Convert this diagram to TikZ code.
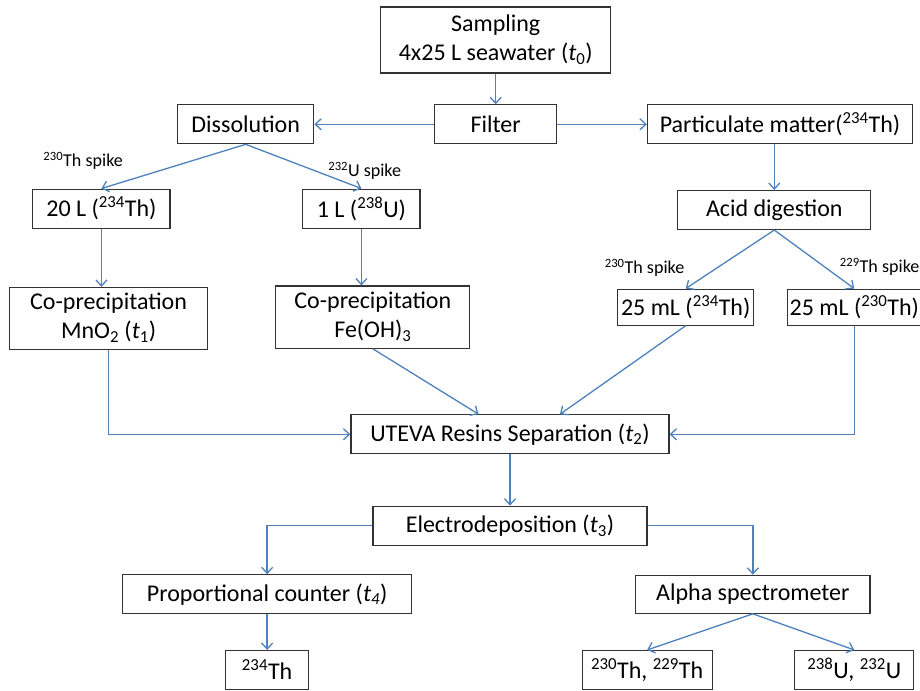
\documentclass[tikz,border=0pt]{standalone}
\usepackage{fontspec}
\setmainfont{Carlito}
\usetikzlibrary{arrows.meta, positioning}
\definecolor{lineblue}{RGB}{79,129,189}
\tikzstyle{box} = [rectangle, minimum height=1.365cm, text centered, draw=black!80, line width=1.1pt, inner sep=2pt, font=\fontsize{23.9}{29}\selectfont]
\tikzstyle{spikelabel} = [inner sep=1pt, font=\fontsize{18}{20}\selectfont]
\tikzstyle{line} = [draw=lineblue, line width=1.3pt, -{Straight Barb[length=6pt,width=11pt]}]

\begin{document}
\begin{tikzpicture}[node distance=3cm]
\useasboundingbox (0,0) rectangle (32.2,-24.185);

% Boxes
% Sampling and filtration
\node (sampling) [box, minimum width=8.05cm, minimum height=2.31cm] at (17.35,-1.4) {
    \begin{tabular}{c}
        Sampling \\
        4x25 L seawater (\textit{t}\textsubscript{0})
    \end{tabular}
};
\node (filter) [box, minimum width=4.27cm, below of=sampling, yshift=0.05cm] {Filter};
\node (dissolution) [box, minimum width=4.76cm, left of=filter, xshift=-5.75cm] {Dissolution};
\node (particulate) [box, minimum width=9.28cm, right of=filter, xshift=6.95cm] {Particulate matter(\textsuperscript{234}Th)};
%Dissolved fraction
\node (vingt) [box, minimum width=4.8cm, below of=dissolution, xshift=-5.05cm, yshift=0.05cm] {20 L (\textsuperscript{234}Th)};
\node (un) [box, minimum width=4.1cm, below of=dissolution, xshift=4.05cm, yshift=0.05cm] {1 L (\textsuperscript{238}U)};
\node (mno) [box, minimum width=6.93cm, minimum height=2.17cm, below of=vingt, xshift=0.25cm, yshift=-0.85cm] {
    \begin{tabular}{c}
        Co-precipitation \\
        MnO\textsubscript{2} (\textit{t}\textsubscript{1})
    \end{tabular}
};
\node (feoh) [box, minimum width=6.79cm, minimum height=2.17cm, below of=un, xshift=0.4cm, yshift=-0.8cm] {
    \begin{tabular}{c}
        Co-precipitation \\
        Fe(OH)\textsubscript{3}
    \end{tabular}
};
%Particulate fraction
\node (acid) [box, minimum width=6.76cm, below of=particulate, xshift=-0.2cm] {Acid digestion};
\node (thA) [box, minimum width=4.76cm, minimum height=1.26cm, below of=acid, xshift=-3.1cm, yshift=-0.4cm] {25 mL (\textsuperscript{234}Th)};
\node (thB) [box, minimum width=4.41cm, minimum height=1.26cm, right of=thA, xshift=2.9cm] {25 mL (\textsuperscript{230}Th)};
%Separation and counting
\node (uteva) [box, minimum width=11.13cm, below of=filter, xshift=0.5cm, yshift=-7.85cm] {UTEVA Resins Separation (\textit{t}\textsubscript{2})};
\node (electro) [box, minimum width=9.59cm, below of=uteva, yshift=-0.2cm] {Electrodeposition (\textit{t}\textsubscript{3})};
\node (propcount) [box, minimum width=10.1cm, below of=electro, xshift=-8.5cm, yshift=0.6cm] {Proportional counter (\textit{t\textsubscript{4}})};
\node (alpha) [box, minimum width=8.2cm, minimum height=1.33cm, below of=electro, xshift=8.5cm, yshift=0.6cm] {Alpha spectrometer};
\node (th234) [box, minimum width=2.9cm, below of=propcount, yshift=0.35cm] {\textsuperscript{234}Th};
\node (thth) [box, minimum width=4.55cm, below of=alpha, xshift=-3.7cm, yshift=0.35cm] {\textsuperscript{230}Th, \textsuperscript{229}Th};
\node (uu) [box, minimum width=4.17cm, below of=alpha, xshift=3.55cm, yshift=0.35cm] {\textsuperscript{238}U, \textsuperscript{232}U};

% Connections
\draw [line] (sampling) -- (filter);
\draw [line] (filter) -- (dissolution);
\draw [line] (filter) -- (particulate);
\draw [line] (dissolution.south) -- node[spikelabel, pos=0.8, above left, xshift=-0.2cm, yshift=0.3cm] {\textsuperscript{230}Th spike} (vingt.north);
\draw [line] (dissolution.south) -- node[spikelabel, pos=0.7, above right, yshift=-0.2cm] {\textsuperscript{232}U spike} (un.north);
\draw [line] (vingt.south) -- (vingt.south |- mno.north);
\draw [line] (un.south) -- (un.south |- feoh.north);
\draw [line] (particulate.south -| acid.north) -- (acid.north);
\draw [line] (acid.south) -- node[spikelabel, pos=0.9, above left, xshift=-0.3cm, yshift=0.15cm] {\textsuperscript{230}Th spike} (thA.north);
\draw [line] (acid.south) -- node[spikelabel, pos=0.8, above right] {\textsuperscript{229}Th spike} (thB.north);

\draw [line] (mno.south) |- (uteva.west);
\draw [line] (feoh.south) -- ([xshift=-1.1cm]uteva.north);
\draw [line] (thA.south) -- ([xshift=1.75cm]uteva.north);
\draw [line] (thB.south) |- (uteva.east);

\draw [line] (uteva) -- (electro);
\draw [line] (electro.west) -| (propcount.north);
\draw [line] (electro.east) -| (alpha.north);
\draw [line] (propcount) -- (th234);
\draw [line] (alpha.south) -- (thth.north);
\draw [line] (alpha.south) -- (uu.north);

\end{tikzpicture}
\end{document}
